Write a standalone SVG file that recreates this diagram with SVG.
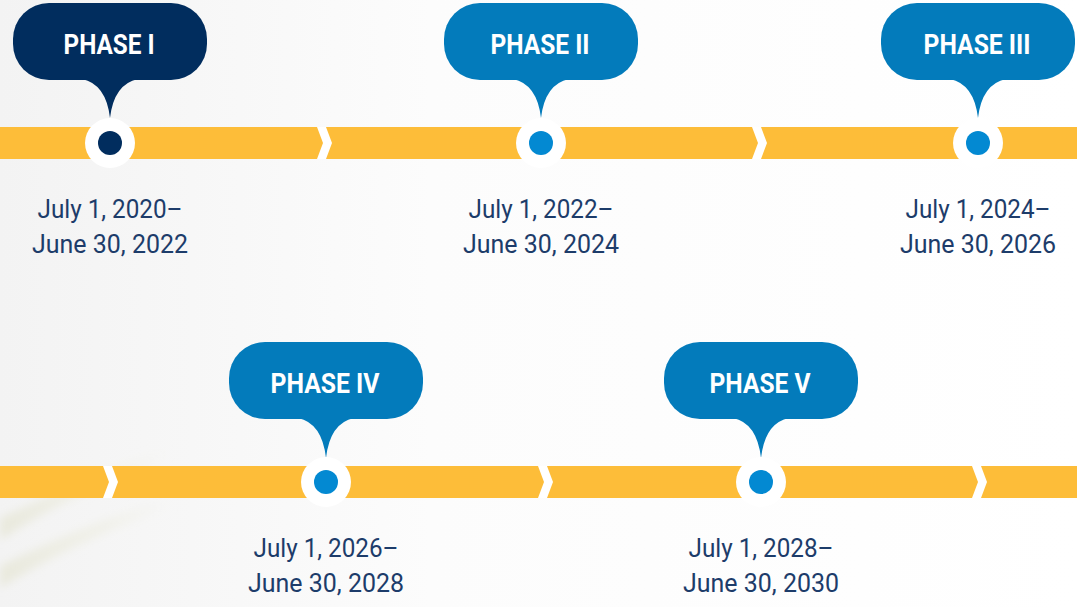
<svg xmlns="http://www.w3.org/2000/svg" width="1077" height="607" viewBox="0 0 1077 607">
  <defs>
    <style>
      .bar { fill: #fdbd39; }
      .chev { fill: #ffffff; }
      .ring { fill: #ffffff; }
      .navy { fill: #012d5e; }
      .blue { fill: #037bbb; }
      .dotnavy { fill: #012d5e; }
      .dotblue { fill: #0389d2; }
      .ptitle { font-family: Roboto, "Liberation Sans", sans-serif; font-weight: 700; font-size: 27px; fill: #ffffff; text-anchor: middle; }
      .date { font-family: Roboto, "Liberation Sans", sans-serif; font-weight: 400; font-size: 26px; fill: #1d3c6a; text-anchor: middle; }
    </style>
    <linearGradient id="bgGrad" x1="0" y1="0" x2="1" y2="0">
      <stop offset="0" stop-color="#f3f3f3"/>
      <stop offset="0.4" stop-color="#fcfcfc"/>
      <stop offset="1" stop-color="#ffffff"/>
    </linearGradient>
    <linearGradient id="swoosh" x1="0" y1="0" x2="1" y2="0">
      <stop offset="0" stop-color="#e8e8da" stop-opacity="0.9"/>
      <stop offset="0.6" stop-color="#eeeee3" stop-opacity="0.6"/>
      <stop offset="1" stop-color="#f2f2ea" stop-opacity="0"/>
    </linearGradient>
    <filter id="blur" x="-20%" y="-20%" width="140%" height="140%">
      <feGaussianBlur stdDeviation="4"/>
    </filter>
  </defs>

  <g id="background">
    <rect x="0" y="0" width="1077" height="607" fill="url(#bgGrad)"/>
    <g filter="url(#blur)">
      <path d="M0 518 C 60 490, 120 465, 170 446 L 170 458 C 120 476, 60 502, 0 540 Z" fill="url(#swoosh)"/>
      <path d="M0 566 C 60 536, 120 512, 175 496 L 175 508 C 120 524, 60 552, 0 588 Z" fill="url(#swoosh)"/>
    </g>
  </g>

  <g id="connectors">
    <rect class="bar" x="0" y="127" width="1077" height="32"/>
    <rect class="bar" x="0" y="466" width="1077" height="32"/>
    <polygon class="chev" points="317,127 326,127 332,143 326,159 317,159 323,143"/>
    <polygon class="chev" points="752,127 761,127 767,143 761,159 752,159 758,143"/>
    <polygon class="chev" points="103,466 112,466 118,482 112,498 103,498 109,482"/>
    <polygon class="chev" points="538,466 547,466 553,482 547,498 538,498 544,482"/>
    <polygon class="chev" points="972,466 981,466 987,482 981,498 972,498 978,482"/>
  </g>

  <g id="phase1">
    <rect class="navy" x="13" y="3" width="194" height="77" rx="36"/>
    <path class="navy" d="M82 79 Q106 84 110 118 Q114 84 138 79 Z"/>
    <circle class="ring" cx="110" cy="143" r="25"/>
    <circle class="dotnavy" cx="110" cy="143" r="12"/>
    <text class="ptitle" x="109" y="54" textLength="91" lengthAdjust="spacingAndGlyphs">PHASE I</text>
    <text class="date" x="110" y="218" textLength="145" lengthAdjust="spacingAndGlyphs">July 1, 2020–</text>
    <text class="date" x="110" y="253" textLength="156" lengthAdjust="spacingAndGlyphs">June 30, 2022</text>
  </g>

  <g id="phase2">
    <rect class="blue" x="444" y="3" width="194" height="77" rx="36"/>
    <path class="blue" d="M513 79 Q537 84 541 118 Q545 84 569 79 Z"/>
    <circle class="ring" cx="541" cy="143" r="25"/>
    <circle class="dotblue" cx="541" cy="143" r="12"/>
    <text class="ptitle" x="540" y="54" textLength="99" lengthAdjust="spacingAndGlyphs">PHASE II</text>
    <text class="date" x="541" y="218" textLength="145" lengthAdjust="spacingAndGlyphs">July 1, 2022–</text>
    <text class="date" x="541" y="253" textLength="156" lengthAdjust="spacingAndGlyphs">June 30, 2024</text>
  </g>

  <g id="phase3">
    <rect class="blue" x="881" y="3" width="194" height="77" rx="36"/>
    <path class="blue" d="M950 79 Q974 84 978 118 Q982 84 1006 79 Z"/>
    <circle class="ring" cx="978" cy="143" r="25"/>
    <circle class="dotblue" cx="978" cy="143" r="12"/>
    <text class="ptitle" x="977" y="54" textLength="107" lengthAdjust="spacingAndGlyphs">PHASE III</text>
    <text class="date" x="978" y="218" textLength="145" lengthAdjust="spacingAndGlyphs">July 1, 2024–</text>
    <text class="date" x="978" y="253" textLength="156" lengthAdjust="spacingAndGlyphs">June 30, 2026</text>
  </g>

  <g id="phase4">
    <rect class="blue" x="229" y="342" width="194" height="77" rx="36"/>
    <path class="blue" d="M298 418 Q322 423 326 458 Q330 423 354 418 Z"/>
    <circle class="ring" cx="326" cy="482" r="25"/>
    <circle class="dotblue" cx="326" cy="482" r="12"/>
    <text class="ptitle" x="325" y="393" textLength="109" lengthAdjust="spacingAndGlyphs">PHASE IV</text>
    <text class="date" x="326" y="557" textLength="145" lengthAdjust="spacingAndGlyphs">July 1, 2026–</text>
    <text class="date" x="326" y="592" textLength="156" lengthAdjust="spacingAndGlyphs">June 30, 2028</text>
  </g>

  <g id="phase5">
    <rect class="blue" x="664" y="342" width="194" height="77" rx="36"/>
    <path class="blue" d="M733 418 Q757 423 761 458 Q765 423 789 418 Z"/>
    <circle class="ring" cx="761" cy="482" r="25"/>
    <circle class="dotblue" cx="761" cy="482" r="12"/>
    <text class="ptitle" x="760" y="393" textLength="101" lengthAdjust="spacingAndGlyphs">PHASE V</text>
    <text class="date" x="761" y="557" textLength="145" lengthAdjust="spacingAndGlyphs">July 1, 2028–</text>
    <text class="date" x="761" y="592" textLength="156" lengthAdjust="spacingAndGlyphs">June 30, 2030</text>
  </g>
</svg>
